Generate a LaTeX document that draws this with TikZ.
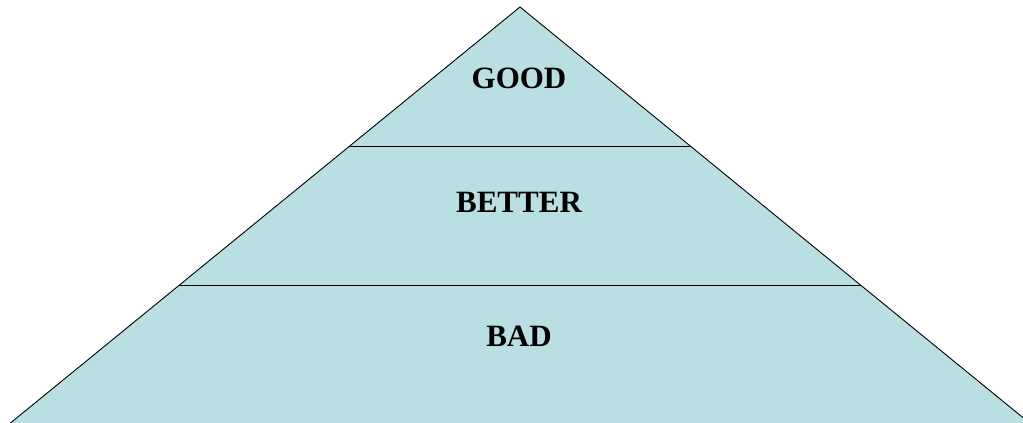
\documentclass[tikz,border=0pt]{standalone}
\usepackage{fontspec}
\setmainfont{Liberation Serif}
\usepackage{xcolor}
\usetikzlibrary{calc}

\definecolor{pyrfill}{RGB}{185,223,227}

\begin{document}
\begin{tikzpicture}[
    x=1pt, y=-1pt,
    edge/.style={draw=black, line width=0.9pt},
    level/.style={font=\fontsize{31}{33}\selectfont\bfseries, inner sep=0pt, anchor=center},
]

\useasboundingbox (0,0) rectangle (1023,423);
\clip (0,0) rectangle (1023,423);

% === Pyramid corners ===
\coordinate (apex) at (520,7);
\coordinate (baseL) at (8,425);
\coordinate (baseR) at (1032,425);

% === Body ===
\fill[pyrfill] (apex) -- (baseL) -- (baseR) -- cycle;
\draw[edge] (baseL) -- (apex) -- (baseR);

% === Dividers ===
\coordinate (cutAL) at ($(apex)!{(146-7)/418}!(baseL)$);
\coordinate (cutAR) at ($(apex)!{(146-7)/418}!(baseR)$);
\coordinate (cutBL) at ($(apex)!{(285-7)/418}!(baseL)$);
\coordinate (cutBR) at ($(apex)!{(285-7)/418}!(baseR)$);
\draw[edge] (cutAL) -- (cutAR);
\draw[edge] (cutBL) -- (cutBR);

% === Labels ===
\node[level] (good) at (519,78) {GOOD};
\node[level] (better) at (519,202) {BETTER};
\node[level] (bad) at (519,336) {BAD};

\end{tikzpicture}
\end{document}
